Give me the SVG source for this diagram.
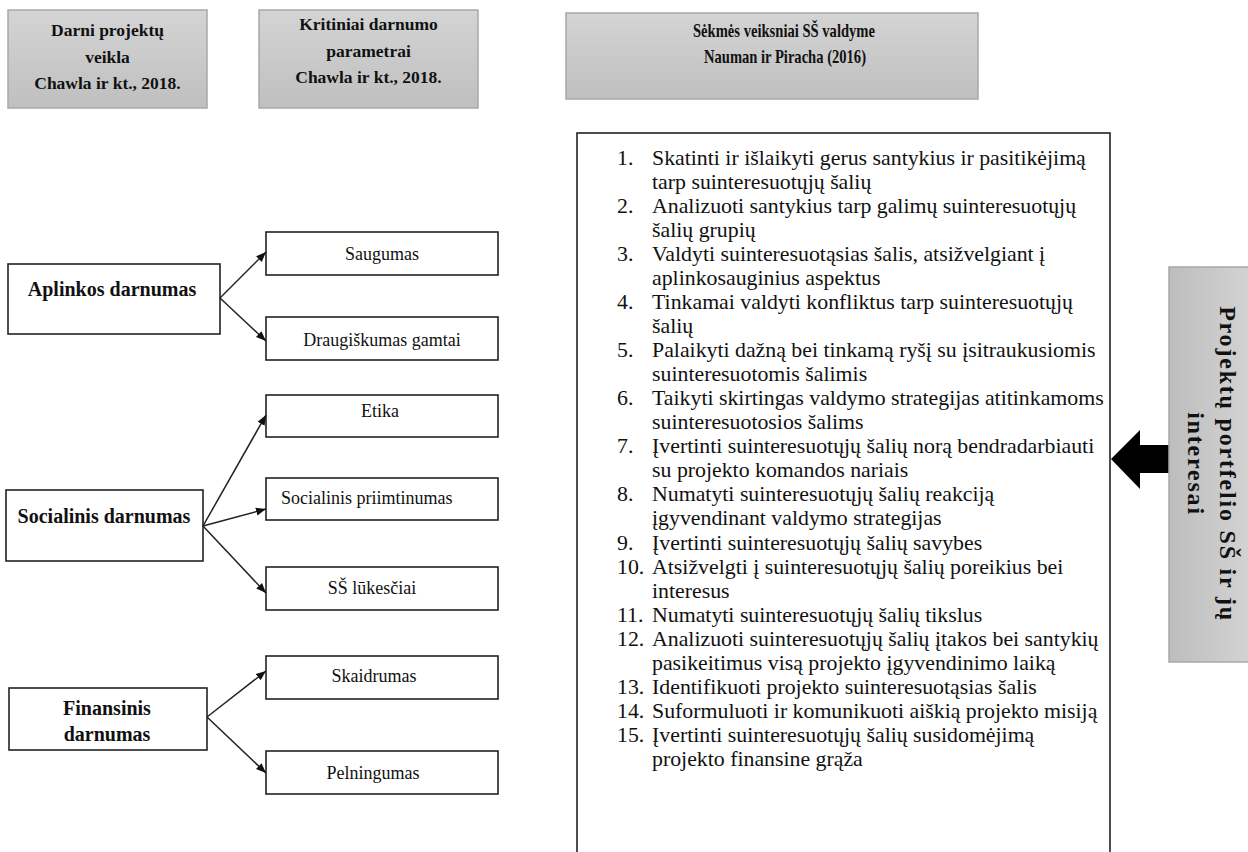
<svg xmlns="http://www.w3.org/2000/svg" width="1248" height="852" viewBox="0 0 1248 852">
<style>
.hdr{fill:url(#gh);stroke:#a8a8a8;stroke-width:1.5}
.box{fill:#fff;stroke:#222;stroke-width:1.6}
.ht{font-family:"Liberation Serif",serif;font-weight:bold;font-size:17.5px;fill:#111;text-anchor:middle}
.lb{font-family:"Liberation Serif",serif;font-weight:bold;font-size:20px;fill:#111;text-anchor:middle}
.rb{font-family:"Liberation Serif",serif;font-size:18px;fill:#111;text-anchor:middle}
.li{font-family:"Liberation Serif",serif;font-size:20.5px;fill:#111}
.con line{stroke:#222;stroke-width:1.5;marker-end:url(#ah)}
</style>
<defs>
<linearGradient id="gh" x1="0" y1="0" x2="0" y2="1"><stop offset="0" stop-color="#d4d4d4"/><stop offset="1" stop-color="#bfbfbf"/></linearGradient>
<linearGradient id="gv" x1="0" y1="0" x2="1" y2="0"><stop offset="0" stop-color="#bdbdbd"/><stop offset="1" stop-color="#d4d4d4"/></linearGradient>
<marker id="ah" viewBox="0 0 10 10" refX="10" refY="5" markerWidth="10" markerHeight="10" markerUnits="userSpaceOnUse" orient="auto"><path d="M0,1 L10,5 L0,9 z" fill="#111"/></marker>
</defs>
<rect width="1248" height="852" fill="#fff"/>

<g id="hdr1"><rect class="hdr" x="8" y="10" width="199" height="98"/>
<text class="ht" x="107.5" y="36">Darni projektų</text><text class="ht" x="107.5" y="63">veikla</text><text class="ht" x="107.5" y="89">Chawla ir kt., 2018.</text></g>
<g id="hdr2"><rect class="hdr" x="259" y="10" width="219" height="98"/>
<text class="ht" x="368.5" y="30">Kritiniai darnumo</text><text class="ht" x="368.5" y="57">parametrai</text><text class="ht" x="368.5" y="83">Chawla ir kt., 2018.</text></g>
<g id="hdr3"><rect class="hdr" x="566" y="13" width="412" height="86"/>
<text class="ht" x="784" y="37" style="font-size:19.5px" textLength="182" lengthAdjust="spacingAndGlyphs">Sėkmės veiksniai SŠ valdyme</text><text class="ht" x="785" y="63" style="font-size:19.5px" textLength="162" lengthAdjust="spacingAndGlyphs">Nauman ir Piracha (2016)</text></g>

<g id="aplinkos"><rect class="box" x="8" y="264" width="212" height="70"/><text class="lb" x="112" y="296">Aplinkos darnumas</text></g>
<g id="socialinis"><rect class="box" x="6" y="490" width="197" height="71"/><text class="lb" x="104" y="523">Socialinis darnumas</text></g>
<g id="finansinis"><rect class="box" x="9" y="688" width="198" height="62"/><text class="lb" x="107" y="715">Finansinis</text><text class="lb" x="107" y="741">darnumas</text></g>

<g id="saugumas"><rect class="box" x="266" y="232" width="232" height="43"/><text class="rb" x="382" y="260">Saugumas</text></g>
<g id="draugiskumas"><rect class="box" x="266" y="317" width="232" height="43"/><text class="rb" x="382" y="346">Draugiškumas gamtai</text></g>
<g id="etika"><rect class="box" x="266" y="395" width="232" height="42"/><text class="rb" x="380" y="417">Etika</text></g>
<g id="priimtinumas"><rect class="box" x="266" y="478" width="232" height="42"/><text class="rb" x="281" y="504" style="text-anchor:start">Socialinis priimtinumas</text></g>
<g id="lukesciai"><rect class="box" x="266" y="567" width="232" height="43"/><text class="rb" x="372" y="594">SŠ lūkesčiai</text></g>
<g id="skaidrumas"><rect class="box" x="266" y="656" width="232" height="43"/><text class="rb" x="374" y="682">Skaidrumas</text></g>
<g id="pelningumas"><rect class="box" x="266" y="751" width="232" height="43"/><text class="rb" x="373" y="779">Pelningumas</text></g>

<g id="connectors" class="con">
<line x1="220" y1="298" x2="266" y2="252"/>
<line x1="220" y1="298" x2="266" y2="341"/>
<line x1="203" y1="526" x2="266" y2="415"/>
<line x1="203" y1="526" x2="266" y2="509"/>
<line x1="203" y1="526" x2="266" y2="593"/>
<line x1="207" y1="717" x2="266" y2="671"/>
<line x1="207" y1="717" x2="266" y2="773"/>
<polygon points="1111,459 1140,430 1140,445 1170,445 1170,473 1140,473 1140,489" fill="#000"/>
</g>

<g id="list"><rect class="box" x="577" y="133" width="533" height="740"/>
<g transform="translate(617,0) scale(1.065,1)" class="li">
<text x="0" y="165">1.</text><text x="32.9" y="165">Skatinti ir išlaikyti gerus santykius ir pasitikėjimą</text>
<text x="32.9" y="189">tarp suinteresuotųjų šalių</text>
<text x="0" y="213">2.</text><text x="32.9" y="213">Analizuoti santykius tarp galimų suinteresuotųjų</text>
<text x="32.9" y="237">šalių grupių</text>
<text x="0" y="261">3.</text><text x="32.9" y="261">Valdyti suinteresuotąsias šalis, atsižvelgiant į</text>
<text x="32.9" y="285">aplinkosauginius aspektus</text>
<text x="0" y="309">4.</text><text x="32.9" y="309">Tinkamai valdyti konfliktus tarp suinteresuotųjų</text>
<text x="32.9" y="333">šalių</text>
<text x="0" y="357">5.</text><text x="32.9" y="357">Palaikyti dažną bei tinkamą ryšį su įsitraukusiomis</text>
<text x="32.9" y="381">suinteresuotomis šalimis</text>
<text x="0" y="405">6.</text><text x="32.9" y="405">Taikyti skirtingas valdymo strategijas atitinkamoms</text>
<text x="32.9" y="429">suinteresuotosios šalims</text>
<text x="0" y="453">7.</text><text x="32.9" y="453">Įvertinti suinteresuotųjų šalių norą bendradarbiauti</text>
<text x="32.9" y="477">su projekto komandos nariais</text>
<text x="0" y="501">8.</text><text x="32.9" y="501">Numatyti suinteresuotųjų šalių reakciją</text>
<text x="32.9" y="525">įgyvendinant valdymo strategijas</text>
<text x="0" y="550">9.</text><text x="32.9" y="550">Įvertinti suinteresuotųjų šalių savybes</text>
<text x="0" y="574">10.</text><text x="32.9" y="574">Atsižvelgti į suinteresuotųjų šalių poreikius bei</text>
<text x="32.9" y="598">interesus</text>
<text x="0" y="622">11.</text><text x="32.9" y="622">Numatyti suinteresuotųjų šalių tikslus</text>
<text x="0" y="646">12.</text><text x="32.9" y="646">Analizuoti suinteresuotųjų šalių įtakos bei santykių</text>
<text x="32.9" y="670">pasikeitimus visą projekto įgyvendinimo laiką</text>
<text x="0" y="694">13.</text><text x="32.9" y="694">Identifikuoti projekto suinteresuotąsias šalis</text>
<text x="0" y="718">14.</text><text x="32.9" y="718">Suformuluoti ir komunikuoti aiškią projekto misiją</text>
<text x="0" y="742">15.</text><text x="32.9" y="742">Įvertinti suinteresuotųjų šalių susidomėjimą</text>
<text x="32.9" y="766">projekto finansine grąža</text>
</g></g>

<g id="portfelis"><rect x="1169" y="267" width="85" height="395" fill="url(#gv)" stroke="#a8a8a8" stroke-width="1.5"/>
<text transform="translate(1220,464) rotate(90)" style="font-family:'Liberation Serif',serif;font-weight:bold;font-size:24px;letter-spacing:1.8px;fill:#111;text-anchor:middle">Projektų portfelio SŠ ir jų</text>
<text transform="translate(1188,464) rotate(90)" style="font-family:'Liberation Serif',serif;font-weight:bold;font-size:24px;letter-spacing:1.8px;fill:#111;text-anchor:middle">interesai</text>
</g>
</svg>
